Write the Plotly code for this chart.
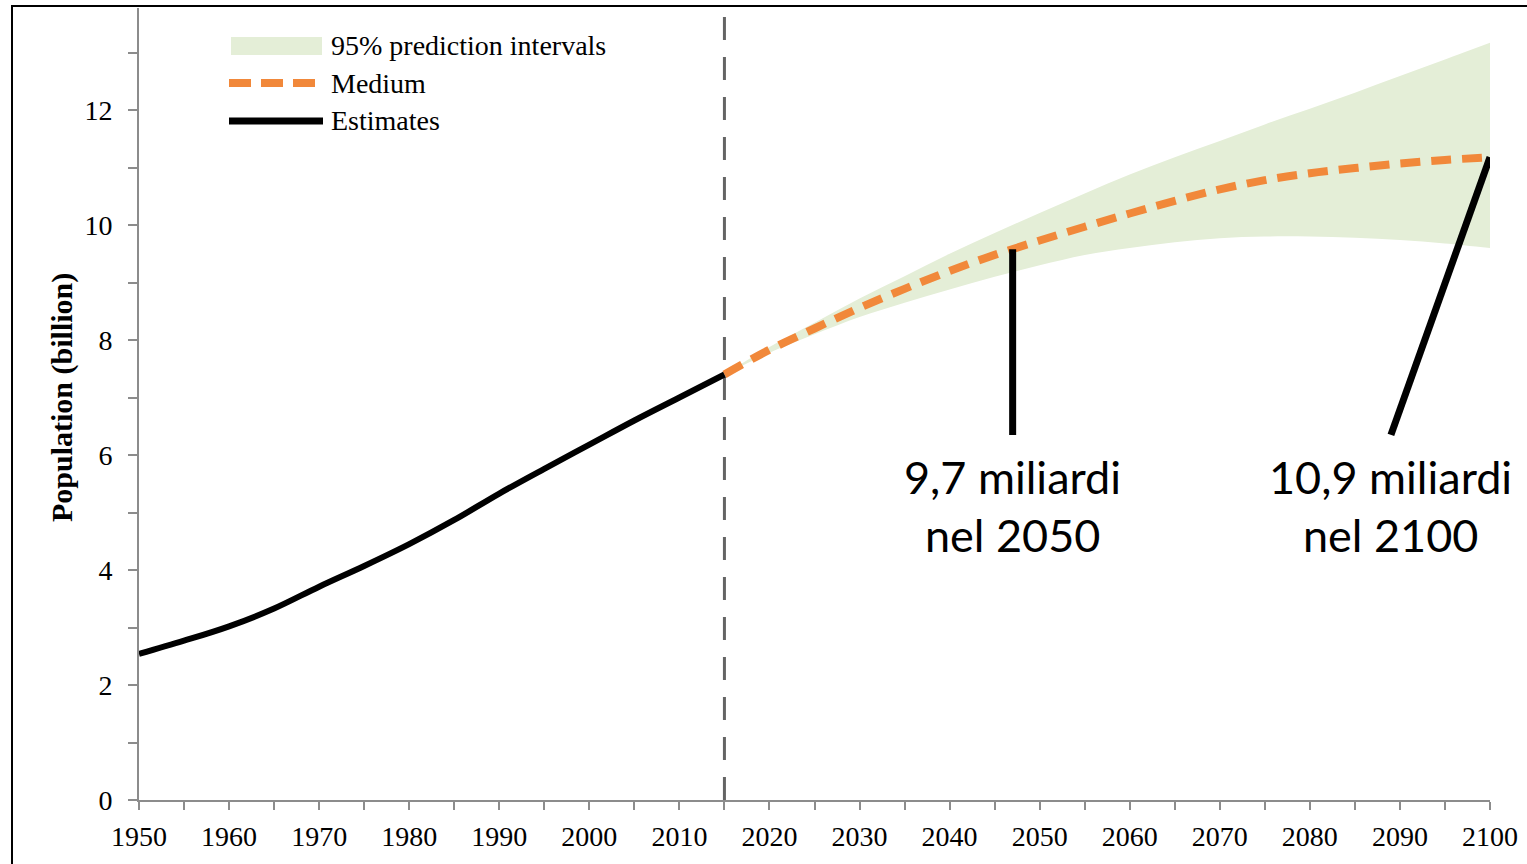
import plotly.graph_objects as go

# ---- data (world population, billions) ----
est_years = [1950, 1955, 1960, 1965, 1970, 1975, 1980, 1985, 1990, 1995, 2000, 2005, 2010, 2015]
est_pop = [2.54, 2.77, 3.02, 3.33, 3.71, 4.07, 4.45, 4.87, 5.33, 5.76, 6.18, 6.60, 7.00, 7.40]

proj_years = [2015, 2020, 2025, 2030, 2035, 2040, 2045, 2050, 2055, 2060,
              2065, 2070, 2075, 2080, 2085, 2090, 2095, 2100]
medium = [7.40, 7.83, 8.20, 8.56, 8.89, 9.20, 9.48, 9.73, 9.97, 10.20,
          10.42, 10.62, 10.78, 10.90, 10.99, 11.07, 11.13, 11.18]
upper95 = [7.40, 7.88, 8.30, 8.72, 9.11, 9.50, 9.86, 10.21, 10.55, 10.88,
           11.18, 11.46, 11.75, 12.02, 12.30, 12.59, 12.88, 13.17]
lower95 = [7.40, 7.78, 8.10, 8.40, 8.65, 8.88, 9.10, 9.30, 9.48, 9.60,
           9.70, 9.77, 9.80, 9.80, 9.78, 9.74, 9.68, 9.60]

x_ticks = list(range(1950, 2101, 10))
y_ticks = [0, 2, 4, 6, 8, 10, 12]
legend_labels = ["95% prediction intervals", "Medium", "Estimates"]

callouts = [
    {"year": 2047, "line1": "9,7 miliardi", "line2": "nel 2050", "foot_year": 2047},
    {"year": 2100, "line1": "10,9 miliardi", "line2": "nel 2100", "foot_year": 2089},
]

# ---- styling ----
BAND = "rgb(228,238,215)"
ORANGE = "rgb(241,136,58)"
AXIS = "rgb(140,140,140)"
SERIF = "Liberation Serif, Times New Roman, serif"
SANS = "Lato, Carlito, Noto Sans, sans-serif"

W, H = 1527, 864
L, R, T, B = 139, 37, 8, 64
PW, PH = W - L - R, H - T - B


def px(xp):
    return (xp - L) / PW


def py(yp):
    return (H - B - yp) / PH


def interp(x, xs, ys):
    for i in range(len(xs) - 1):
        if xs[i] <= x <= xs[i + 1]:
            f = (x - xs[i]) / (xs[i + 1] - xs[i])
            return ys[i] + f * (ys[i + 1] - ys[i])
    return ys[-1]


fig = go.Figure()

# prediction band
fig.add_trace(go.Scatter(x=proj_years, y=lower95, mode="lines",
                         line=dict(width=0, color=BAND, shape="spline"), hoverinfo="skip",
                         showlegend=False))
fig.add_trace(go.Scatter(x=proj_years, y=upper95, mode="lines", fill="tonexty",
                         fillcolor=BAND, line=dict(width=0, color=BAND, shape="spline"),
                         showlegend=False))

# medium projection
fig.add_trace(go.Scatter(x=proj_years, y=medium, mode="lines",
                         line=dict(color=ORANGE, width=8, dash="20px,11px", shape="spline"),
                         showlegend=False))

# estimates
fig.add_trace(go.Scatter(x=est_years, y=est_pop, mode="lines",
                         line=dict(color="black", width=6, shape="spline"), showlegend=False))

# callout lines
foot_val = 6.35
for c in callouts:
    top_val = interp(c["year"], proj_years, medium)
    fig.add_trace(go.Scatter(x=[c["foot_year"], c["year"]], y=[foot_val, top_val],
                             mode="lines", line=dict(color="black", width=7),
                             showlegend=False, hoverinfo="skip"))

shapes = []
# base year separator
shapes.append(dict(type="line", xref="x", yref="paper", x0=2015, x1=2015, y0=0, y1=1,
                   line=dict(color="rgb(100,100,100)", width=3, dash="23px,17px"),
                   layer="below"))
# outer frame
shapes.append(dict(type="rect", xref="paper", yref="paper",
                   x0=px(12), x1=px(W + 20), y0=py(H + 20), y1=py(6),
                   line=dict(color="black", width=2), layer="above"))

# legend swatches
shapes.append(dict(type="rect", xref="paper", yref="paper",
                   x0=px(231), x1=px(322), y0=py(55), y1=py(37),
                   fillcolor=BAND, line=dict(width=0)))
shapes.append(dict(type="line", xref="paper", yref="paper",
                   x0=px(229), x1=px(318), y0=py(83), y1=py(83),
                   line=dict(color=ORANGE, width=8, dash="22px,10px")))
shapes.append(dict(type="line", xref="paper", yref="paper",
                   x0=px(229), x1=px(323), y0=py(121), y1=py(121),
                   line=dict(color="black", width=7)))

annotations = []
for lbl, yy in zip(legend_labels, [45, 83, 121]):
    annotations.append(dict(xref="paper", yref="paper", x=px(329), y=py(yy),
                            text=lbl, showarrow=False, xanchor="left", yanchor="middle",
                            font=dict(family=SERIF, size=28, color="black")))

# callout texts
for c in callouts:
    annotations.append(dict(xref="x", yref="paper", x=c["foot_year"], y=py(477),
                            text=c["line1"], showarrow=False, xanchor="center",
                            yanchor="middle", font=dict(family=SANS, size=45, color="black")))
    annotations.append(dict(xref="x", yref="paper", x=c["foot_year"], y=py(535),
                            text=c["line2"], showarrow=False, xanchor="center",
                            yanchor="middle", font=dict(family=SANS, size=45, color="black")))

# y-axis title
annotations.append(dict(xref="paper", yref="paper", x=px(62), y=py(398),
                        text="<b>Population (billion)</b>", textangle=-90,
                        showarrow=False, xanchor="center", yanchor="middle",
                        font=dict(family=SERIF, size=30, color="black")))

fig.update_layout(
    width=W, height=H,
    margin=dict(l=L, r=R, t=T, b=B),
    paper_bgcolor="white", plot_bgcolor="white",
    showlegend=False,
    shapes=shapes,
    annotations=annotations,
    xaxis=dict(range=[1950, 2100], tickvals=x_ticks, ticks="outside", ticklen=8,
               tickwidth=2, tickcolor=AXIS, showline=True, linecolor=AXIS, linewidth=2,
               showgrid=False, zeroline=False, ticklabelstandoff=2,
               tickfont=dict(family=SERIF, size=28, color="black"),
               minor=dict(dtick=5, tick0=1950, ticks="outside", ticklen=8, tickwidth=2,
                          tickcolor=AXIS, showgrid=False)),
    yaxis=dict(range=[0, (H - B - T) / 57.5], tickvals=y_ticks, ticks="outside",
               ticklen=9, tickwidth=2, tickcolor=AXIS, showline=True, linecolor=AXIS,
               linewidth=2, showgrid=False, zeroline=False, ticklabelstandoff=10,
               tickfont=dict(family=SERIF, size=28, color="black"),
               minor=dict(dtick=1, tick0=0, ticks="outside", ticklen=9, tickwidth=2,
                          tickcolor=AXIS, showgrid=False)),
)

fig.write_html("out.html")
